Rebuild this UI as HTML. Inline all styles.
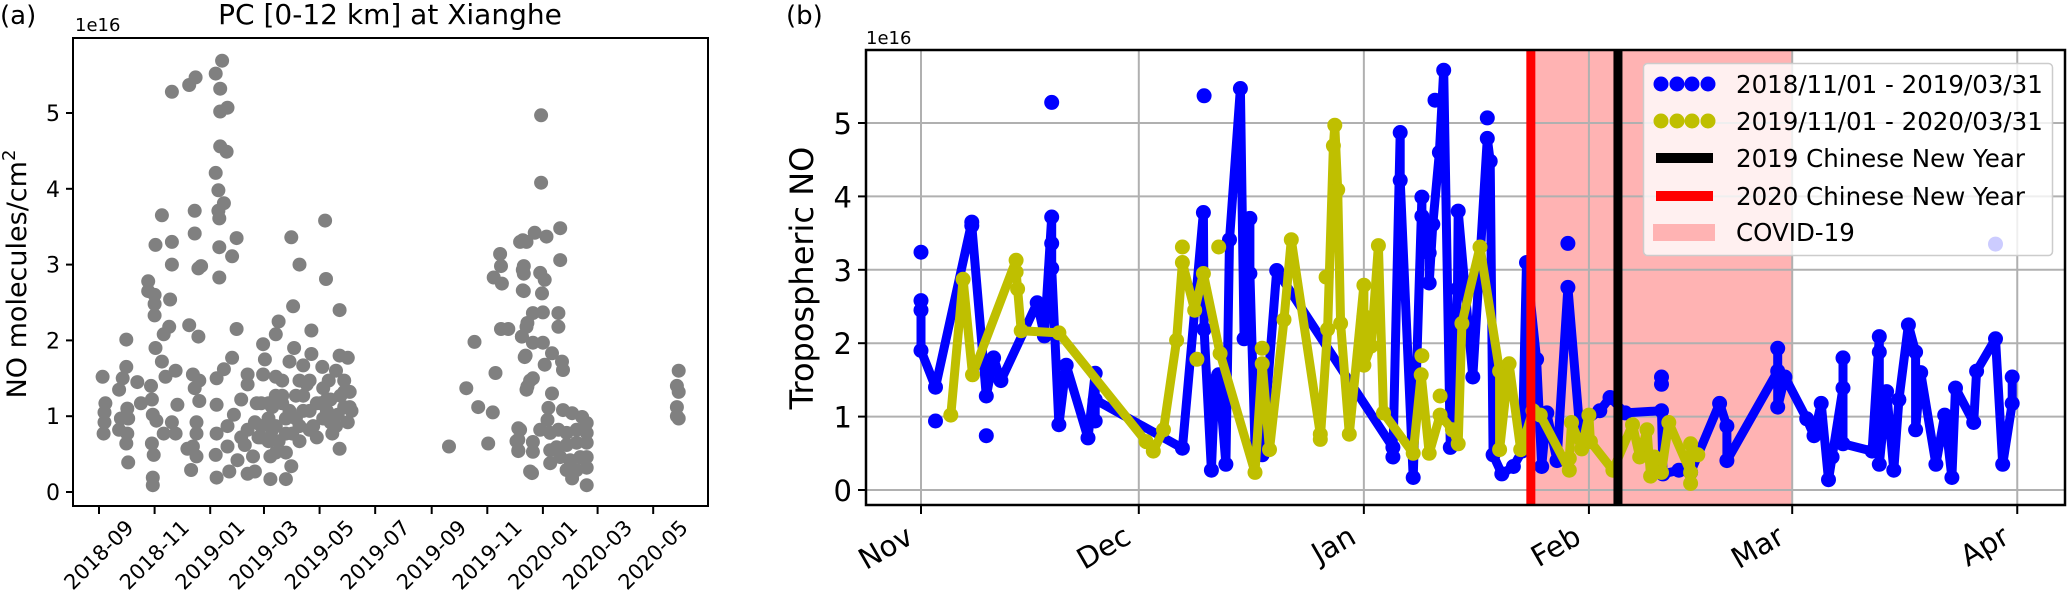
<!DOCTYPE html>
<html><head><meta charset="utf-8">
<style>
html,body{margin:0;padding:0;background:#fff;}
svg{display:block;font-family:"DejaVu Sans","Liberation Sans",sans-serif;}
</style></head>
<body>
<svg id="fig" width="2067" height="597" viewBox="0 0 2067 597" xmlns="http://www.w3.org/2000/svg">
<rect width="2067" height="597" fill="#fff"/>
<g id="panelA"></g>
<g id="panelB"></g>
</svg>
<script>
// ---------- Panel (a) data: days since 2018-09-01, values (1e16 molecules/cm2)
const aDays = [4,7,6,6,5,30,30,26,22,31,24,32,22,31,30,32,42,46,
54,54,61,61,61,62,57,58,59,63,58,60,59,59,62,69,71,77,78,80,80,80,69,73,84,86,80,84,71,
99,106,105,105,109,112,99,109,103,110,105,110,107,107,103,107,101,97,
128,135,133,133,141,133,140,128,131,137,131,132,132,132,146,151,151,146,137,129,129,129,128,129,141,143,141,148,156,152,163,163,160,163,169,173,175,171,
180,180,182,194,197,211,220,213,214,209,201,194,190,186,190,186,188,188,194,205,211,205,205,216,220,224,212,220,228,231,233,233,239,243,248,249,254,252,245,256,264,264,273,260,265,269,275,273,264,269,277,
201,224,231,250,246,194,178,178,171,163,156,
194,201,209,216,224,231,239,246,254,262,269,275,220,205,197,178,186,250,235,260,
384,403,412,416,427,432,435,440,441,433,442,441,449,
462,469,466,466,466,464,469,468,473,469,462,458,460,473,
485,485,465,478,491,506,506,465,465,484,489,486,476,487,504,504,470,464,476,467,487,497,489,508,509,470,476,497,493,492,509,519,530,535,460,460,460,484,476,476,495,504,513,524,535,535,524,513,502,495,495,506,517,528,535,535,519,535,475,513,524,
636,634,636,634,636,634];
const aVals = [1.52,1.17,1.05,0.92,0.77,2.01,1.65,1.5,1.35,1.1,0.97,0.97,0.82,0.77,0.64,0.39,1.45,1.17,
2.78,2.65,2.6,2.48,2.33,1.9,1.4,1.22,1.02,0.94,0.64,0.49,0.19,0.09,3.26,3.65,2.08,2.18,2.54,3.0,3.3,5.28,1.72,1.52,1.6,1.15,0.92,0.77,0.77,
5.37,5.47,3.71,3.41,2.95,2.98,2.2,2.05,1.55,1.47,1.37,1.2,0.92,0.77,0.6,0.47,0.29,0.57,
5.52,5.69,5.32,5.02,5.07,4.56,4.49,4.21,3.98,3.81,3.71,3.61,3.23,2.83,3.11,3.35,2.15,1.77,1.62,1.5,1.15,0.77,0.49,0.19,0.6,0.27,0.87,1.02,1.22,0.42,1.55,1.42,0.62,0.24,0.47,1.17,0.72,0.27,
1.95,1.55,1.75,2.08,2.25,3.36,3.0,2.45,1.9,1.72,1.47,1.27,1.12,0.97,0.82,0.67,0.47,0.17,0.52,0.52,0.34,0.17,0.97,1.27,1.47,1.67,0.77,0.67,1.42,1.07,2.13,1.82,0.72,1.17,3.58,2.81,0.92,1.47,1.65,0.77,2.4,1.8,1.77,1.6,1.27,1.12,1.32,0.92,0.57,1.47,1.07,
1.17,1.07,0.82,1.22,0.97,0.87,0.87,1.17,0.92,0.82,0.72,
1.52,1.27,1.07,0.97,1.27,1.47,1.17,1.37,1.22,1.02,1.32,1.12,0.87,0.77,0.67,0.72,1.17,1.07,0.87,0.87,
0.6,1.37,1.98,1.12,0.64,1.05,1.57,3.14,2.98,2.83,2.75,2.15,2.15,
3.3,3.3,2.98,2.88,2.65,2.05,2.18,1.8,1.47,1.35,0.82,0.67,0.54,0.27,
4.97,4.08,3.32,3.42,3.37,3.48,3.06,2.93,2.66,2.89,2.8,2.62,2.36,2.37,2.36,2.18,2.23,2.05,1.97,1.78,1.97,1.83,1.68,1.72,1.61,1.39,1.5,1.3,1.11,0.95,1.08,1.04,0.99,0.91,0.84,0.69,0.55,0.82,0.66,0.53,0.78,0.82,0.78,0.82,0.78,0.65,0.65,0.62,0.59,0.55,0.38,0.46,0.42,0.46,0.46,0.32,0.18,0.09,0.25,0.29,0.29,
1.6,1.4,1.32,1.12,0.97,1.0];
const aTickLabels = ["2018-09","2018-11","2019-01","2019-03","2019-05","2019-07","2019-09","2019-11","2020-01","2020-03","2020-05"];
const aTickDays = [0,61,122,181,242,303,365,426,487,547,608];
const aYTicks = [0,1,2,3,4,5];

// ---------- Panel (b) data: days since Nov 1
const blueDays = [0,0,0,2,7,7,9,10,11,16,17,18,18,18,19,20,23,24,24,24,36,38.9,39,40,40.5,41,42,42.5,44,44.5,45.3,45.3,46,47,49,65,65,66,66,67.8,69,69,70,70,70.5,71.4,72,72.9,73.9,74,76,78,78.4,78.8,80,81.6,82.8,83.4,84.8,85.5,86.2,87.6,89.1,90.7,93.5,94.9,97,102,102.2,104.4,106,110,111,111,118,118,118,119,122,123,124,125,125.5,127,127,127,131,132,132,132,133,134,134.7,136,137,137,137.7,139.8,141,142,142.5,145,145.4,148,149,150.3,150.3];
const blueVals = [2.58,2.45,1.9,1.4,3.65,3.6,1.28,1.8,1.49,2.55,2.1,3.72,3.36,3.02,0.89,1.7,0.71,1.59,0.94,1.23,0.57,3.78,2.19,0.27,1.49,1.57,0.35,3.41,5.47,2.06,3.7,2.95,0.6,0.48,2.99,0.58,0.45,4.87,4.22,0.17,3.99,3.73,3.23,2.82,3.62,4.6,5.72,0.58,2.74,3.8,1.54,4.79,4.48,0.48,0.22,0.32,0.53,3.1,1.78,0.32,1.05,0.4,2.76,0.87,1.08,1.26,1.05,1.08,0.22,0.27,0.24,1.18,0.87,0.4,1.62,1.93,1.13,1.54,0.97,0.74,1.18,0.14,0.45,1.39,1.8,0.63,0.53,2.09,1.88,0.35,1.34,0.27,1.23,2.25,1.88,0.82,1.6,0.35,1.02,0.17,1.39,0.92,1.62,2.06,0.35,1.18,1.54];
const blueExtraDays = [0,2,9,18,39,70.8,78,89.1,102,102];
const blueExtraVals = [3.24,0.94,0.74,5.28,5.37,5.31,5.07,3.36,1.54,1.44];
const blueHiddenDays = [148];
const blueHiddenVals = [3.35];
const yellowDays = [4.1,5.8,7.1,13.1,13.1,13.3,13.8,19,31,32,33.4,35.2,36,37.7,38.9,41.2,46,47,48,50,51,55,55,56,56.8,57,57.4,57.8,59,61,61,61,62,63,63.7,67.8,68.9,70,71.5,73.2,74,74.5,77,79.7,79.7,81,82.6,84.3,85.3,89.3,89.3,89.6,91,92,92.2,95.3,98,99,100,100.5,101,102,103,106,106,107];
const yellowVals = [1.02,2.87,1.57,3.13,2.97,2.74,2.17,2.14,0.66,0.53,0.82,2.04,3.1,2.45,2.95,1.86,0.24,1.72,0.55,2.32,3.41,0.76,0.69,2.19,4.69,4.97,4.09,2.27,0.76,2.79,2.37,1.7,1.96,3.33,1.05,0.5,1.57,0.5,1.02,0.82,0.63,2.27,3.31,1.62,0.55,1.72,0.55,1.08,1.02,0.27,0.43,0.92,0.56,1.02,0.66,0.27,0.89,0.45,0.82,0.19,0.45,0.24,0.92,0.24,0.63,0.48];
const yellowExtraDays = [36,41,38,47,55.8,69,71.5,106];
const yellowExtraVals = [3.31,3.31,1.78,1.93,2.9,1.83,1.28,0.09];
const bMonthLabels = ["Nov","Dec","Jan","Feb","Mar","Apr"];
const bMonthDays = [0,30,61,92,120,151];
const bYTicks = [0,1,2,3,4,5];
const cny2019Day = 96;
const cny2020Day = 84;
const covidStartDay = 84;
const covidEndDay = 120;

const NS = "http://www.w3.org/2000/svg";
function mk(parent, tag, attrs, text){
  const e = document.createElementNS(NS, tag);
  for (const k in attrs) e.setAttribute(k, attrs[k]);
  if (text !== undefined) e.textContent = text;
  parent.appendChild(e);
  return e;
}

// ===== Panel A =====
(function(){
  const g = document.getElementById('panelA');
  const L=73,R=708,T=38,B=506;
  const xA = d => 99 + d*0.9115;
  const yA = v => 492 - v*75.8;
  let t;
  t = mk(g,'text',{x:0,y:24,'font-size':26,fill:'#000'},'(a)');
  
  
  t = mk(g,'text',{x:390,y:24,'font-size':28,'text-anchor':'middle',fill:'#000'},'PC [0-12 km] at Xianghe');
  
  
  t = mk(g,'text',{x:75,y:31,'font-size':18,fill:'#000'},'1e16');
  
  
  t = mk(g,'text',{x:0,y:0,'font-size':27,'text-anchor':'middle',fill:'#000',transform:'translate(26,274) rotate(-90)'});
  
  
  t.appendChild(document.createTextNode('NO molecules/cm'));
  mk(t,'tspan',{'font-size':18,dy:-11},'2');
  const pts = mk(g,'g',{});
  
  
  for (let i=0;i<aDays.length;i++){
    const c = mk(pts,'circle',{cx:xA(aDays[i]).toFixed(1),cy:yA(aVals[i]).toFixed(1),r:7,fill:'#808080'});
    
    
  }
  const fr = mk(g,'rect',{x:L,y:T,width:R-L,height:B-T,fill:'none',stroke:'#000','stroke-width':2});
  
  
  for (let i=0;i<aYTicks.length;i++){
    const y=yA(aYTicks[i]);
    mk(g,'line',{x1:L-7,x2:L,y1:y,y2:y,stroke:'#000','stroke-width':2});
    const tl = mk(g,'text',{x:L-13,y:y+8,'font-size':22,'text-anchor':'end',fill:'#000'},String(aYTicks[i]));
    
    
  }
  for (let i=0;i<aTickDays.length;i++){
    const x=xA(aTickDays[i]);
    mk(g,'line',{x1:x,x2:x,y1:B,y2:B+8,stroke:'#000','stroke-width':2});
    const tl = mk(g,'text',{x:0,y:0,'font-size':21,'text-anchor':'middle','dominant-baseline':'central',fill:'#000',transform:`translate(${x},${555}) rotate(-45)`},aTickLabels[i]);
    
    
  }
})();

// ===== Panel B =====
(function(){
  const g = document.getElementById('panelB');
  const L=866,R=2065,T=50,B=505;
  const xB = d => 921 + d*7.26;
  const yB = v => 490 - v*73.4;
  let t;
  t = mk(g,'text',{x:786,y:24,'font-size':26,fill:'#000'},'(b)');
  
  
  t = mk(g,'text',{x:866,y:44,'font-size':18,fill:'#000'},'1e16');
  
  
  t = mk(g,'text',{x:0,y:0,'font-size':32,'text-anchor':'middle',fill:'#000',transform:'translate(813,278) rotate(-90)'},'Tropospheric NO');
  
  
  const sp = mk(g,'rect',{x:xB(covidStartDay),y:T,width:xB(covidEndDay)-xB(covidStartDay),height:B-T,fill:'#ffb3b3'});
  
  
  for (let i=0;i<bYTicks.length;i++){
    const y=yB(bYTicks[i]);
    const gl = mk(g,'line',{x1:L,x2:R,y1:y,y2:y,stroke:'#b0b0b0','stroke-width':2});
    
    
  }
  for (let i=0;i<bMonthDays.length;i++){
    const x=xB(bMonthDays[i]);
    const gl = mk(g,'line',{x1:x,x2:x,y1:T,y2:B,stroke:'#b0b0b0','stroke-width':2});
    
    
  }
  function series(days, vals, color, name){
    const sg = mk(g,'g',{});
    
    
    const d = days.map((dd,i)=>(i?'L':'M')+xB(dd).toFixed(1)+','+yB(vals[i]).toFixed(1)).join(' ');
    const p = mk(sg,'path',{d:d,fill:'none',stroke:color,'stroke-width':9,'stroke-linejoin':'round','stroke-linecap':'round'});
    
    
    for (let i=0;i<days.length;i++){
      const c = mk(sg,'circle',{cx:xB(days[i]).toFixed(1),cy:yB(vals[i]).toFixed(1),r:7.5,fill:color});
      
      
    }
    return sg;
  }
  function dots(days, vals, color, name){
    for (let i=0;i<days.length;i++){
      const c = mk(g,'circle',{cx:xB(days[i]).toFixed(1),cy:yB(vals[i]).toFixed(1),r:7.5,fill:color});
      
      
    }
  }
  dots(blueHiddenDays, blueHiddenVals, '#0000ff', 'blue-point');
  series(blueDays, blueVals, '#0000ff', 'series-2018-2019');
  dots(blueExtraDays, blueExtraVals, '#0000ff', 'blue-point');
  series(yellowDays, yellowVals, '#bfbf00', 'series-2019-2020');
  dots(yellowExtraDays, yellowExtraVals, '#bfbf00', 'yellow-point');
  let l = mk(g,'line',{x1:xB(cny2020Day),x2:xB(cny2020Day),y1:T,y2:B,stroke:'#ff0000','stroke-width':9});
  
  
  l = mk(g,'line',{x1:xB(cny2019Day),x2:xB(cny2019Day),y1:T,y2:B,stroke:'#000','stroke-width':9});
  
  
  const fr = mk(g,'rect',{x:L,y:T,width:R-L,height:B-T,fill:'none',stroke:'#000','stroke-width':2.5});
  
  
  for (let i=0;i<bYTicks.length;i++){
    const y=yB(bYTicks[i]);
    mk(g,'line',{x1:L-8,x2:L,y1:y,y2:y,stroke:'#000','stroke-width':2});
    const tl = mk(g,'text',{x:L-14,y:y+11,'font-size':29,'text-anchor':'end',fill:'#000'},String(bYTicks[i]));
    
    
  }
  for (let i=0;i<bMonthDays.length;i++){
    const x=xB(bMonthDays[i]);
    mk(g,'line',{x1:x,x2:x,y1:B,y2:B+9,stroke:'#000','stroke-width':2});
    const tl = mk(g,'text',{x:0,y:0,'font-size':29,'text-anchor':'end',fill:'#000',transform:`translate(${x-6},${542}) rotate(-30)`},bMonthLabels[i]);
    
    
  }
  const lg = mk(g,'g',{});
  
  
  mk(lg,'rect',{x:1643.5,y:63.5,width:409,height:192,rx:4,fill:'#fff','fill-opacity':0.8,stroke:'#cccccc','stroke-width':1.5});
  const rows=[84,121,158,196,232];
  const labels=['2018/11/01 - 2019/03/31','2019/11/01 - 2020/03/31','2019 Chinese New Year','2020 Chinese New Year','COVID-19'];
  [1661,1677,1692,1708].forEach(cx=>{
    mk(lg,'circle',{cx:cx,cy:rows[0],r:7.5,fill:'#0000ff'});
    mk(lg,'circle',{cx:cx,cy:rows[1],r:7.5,fill:'#bfbf00'});
  });
  mk(lg,'rect',{x:1656,y:rows[2]-5,width:57,height:10,fill:'#000'});
  mk(lg,'rect',{x:1656,y:rows[3]-5,width:57,height:10,fill:'#ff0000'});
  mk(lg,'rect',{x:1653,y:224,width:62,height:17,fill:'#ffb3b3'});
  for (let i=0;i<labels.length;i++){
    const tl = mk(lg,'text',{x:1736,y:rows[i]+9,'font-size':24.5,fill:'#000'},labels[i]);
    
    
  }
})();
</script>
</body></html>
